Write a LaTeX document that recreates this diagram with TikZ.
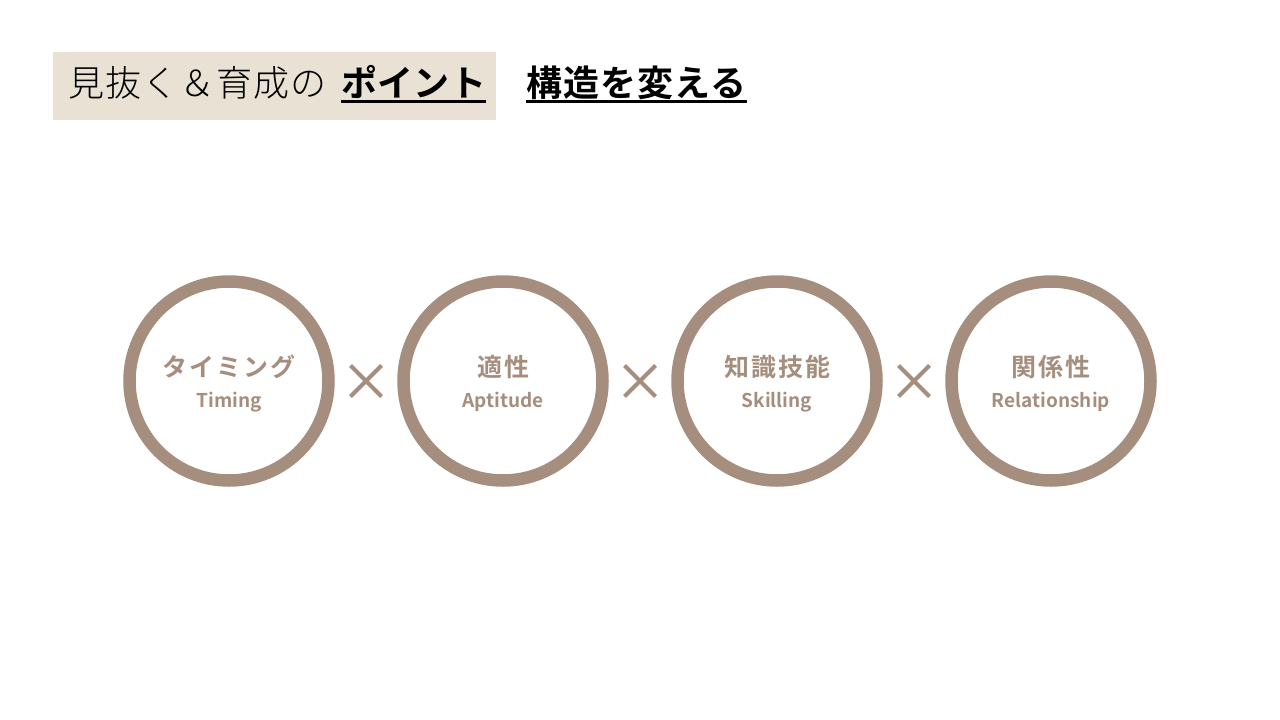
\documentclass[tikz,border=0pt]{standalone}
\usepackage{fontspec}
\setmainfont{Noto Sans CJK JP}
\newfontfamily\jpbold{Noto Sans CJK JP Bold}
\newfontfamily\jplight{Noto Sans CJK JP Light}
\usetikzlibrary{shapes.misc}
\definecolor{ring}{RGB}{166,142,127}
\definecolor{titlebg}{RGB}{232,225,212}

\begin{document}
\begin{tikzpicture}[x=1pt,y=-1pt,
  head/.style={anchor=base west,inner sep=0pt,font=\jpbold\fontsize{36}{42}\selectfont},
  uline/.style={line width=3pt},
  ringnode/.style={circle,draw=ring,line width=12.5pt,minimum size=199pt,inner sep=0pt},
  jlabel/.style={text=ring,font=\jpbold\fontsize{25}{30}\selectfont\addfontfeature{LetterSpace=8}},
  elabel/.style={text=ring,font=\jpbold\fontsize{19}{23}\selectfont},
  times/.style={cross out,draw=ring,line width=4pt,minimum size=27pt,inner sep=0pt}]

  \useasboundingbox (0,0) rectangle (1280,720);

  % title
  \fill[titlebg] (53,52) rectangle (496,120);
  \node[head,font=\jplight\fontsize{36}{42}\selectfont\addfontfeature{LetterSpace=3}] at(68,96)(lead){見抜く＆育成の};
  \node[head,font=\jpbold\fontsize{36}{42}\selectfont\addfontfeature{LetterSpace=1}] at(341,96)(point){ポイント};
  \node[head,font=\jpbold\fontsize{36}{42}\selectfont\addfontfeature{LetterSpace=3}] at(526,96)(kozo){構造を変える};
  \draw[uline] ([yshift=-5pt]point.base west) -- ([yshift=-5pt]point.base east);
  \draw[uline] ([yshift=-5pt]kozo.base west) -- ([yshift=-5pt]kozo.base east);

  % rings
  \node[ringnode] at(229,381)(c1){};
  \node[ringnode] at(503,381)(c2){};
  \node[ringnode] at(777,381)(c3){};
  \node[ringnode] at(1051,381)(c4){};

  % labels
  \node[jlabel] at(229,367)(j1){タイミング};
  \node[jlabel] at(503,367)(j2){適性};
  \node[jlabel] at(777,367)(j3){知識技能};
  \node[jlabel] at(1051,367)(j4){関係性};

  \node[elabel] at(229,402)(e1){Timing};
  \node[elabel] at(503,402)(e2){Aptitude};
  \node[elabel] at(777,402)(e3){Skilling};
  \node[elabel] at(1051,402)(e4){Relationship};

  % crosses
  \node[times] at(366,381)(x1){};
  \node[times] at(640,381)(x2){};
  \node[times] at(914,381)(x3){};

\end{tikzpicture}
\end{document}
